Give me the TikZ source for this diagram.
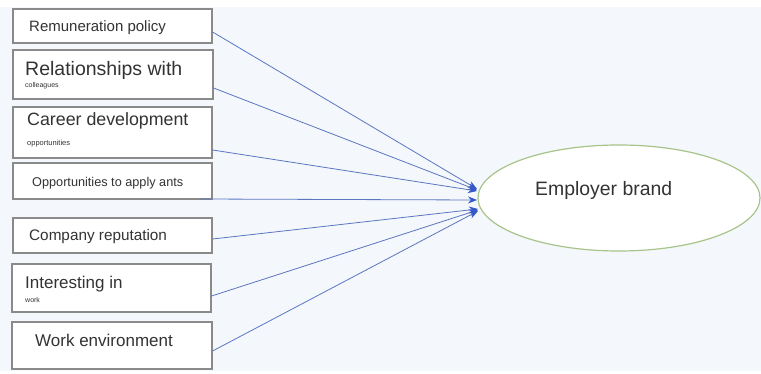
\documentclass[tikz,border=0pt]{standalone}
\usepackage{fontspec}
\setmainfont{Liberation Sans}
\usetikzlibrary{arrows.meta,calc}
\definecolor{bgblue}{HTML}{F4F7FB}
\definecolor{boxline}{HTML}{8A8A8A}
\definecolor{arrowblue}{HTML}{5A76C0}
\definecolor{tipblue}{HTML}{3558C8}
\definecolor{ellgreen}{HTML}{A8C48A}
\definecolor{txt}{HTML}{333333}
\tikzset{
  factorbox/.style={draw=boxline, line width=1.2pt, fill=white, rectangle, inner sep=0pt},
  lbl/.style={anchor=base west, inner sep=0pt, text=txt},
  conn/.style={draw=arrowblue, line width=0.8pt, -{Stealth[length=9pt,width=7pt,color=tipblue]}},
}
\begin{document}
\begin{tikzpicture}[x=1pt,y=-1pt]
\useasboundingbox (0,0) rectangle (761,374);
\fill[white] (0,0) rectangle (761,374);
\fill[bgblue] (0,7) rectangle (761,371);
% boxes
\node[factorbox, minimum width=199pt, minimum height=34pt] (b1) at (112.5,26) {};
\node[factorbox, minimum width=200pt, minimum height=49pt] (b2) at (113,74.5) {};
\node[factorbox, minimum width=199pt, minimum height=51pt] (b3) at (112.5,132.5) {};
\node[factorbox, minimum width=199pt, minimum height=36pt] (b4) at (112.5,181) {};
\node[factorbox, minimum width=199pt, minimum height=35pt] (b5) at (112.5,235.5) {};
\node[factorbox, minimum width=199pt, minimum height=48pt] (b6) at (111.5,288) {};
\node[factorbox, minimum width=200pt, minimum height=47pt] (b7) at (112,345.5) {};
% labels
\node[lbl, font=\fontsize{15}{17}\selectfont] (t1) at (29,32) {Remuneration policy};
\node[lbl, font=\fontsize{19.5}{22}\selectfont] (t2) at (25,76) {Relationships with};
\node[lbl, font=\fontsize{7}{8}\selectfont] (t2s) at (25,88) {colleagues};
\node[lbl, font=\fontsize{17.8}{20}\selectfont] (t3) at (27,126) {Career development};
\node[lbl, font=\fontsize{7.5}{8}\selectfont] (t3s) at (27,146) {opportunities};
\node[lbl, font=\fontsize{12.7}{15}\selectfont] (t4) at (32,187) {Opportunities to apply ants};
\node[lbl, font=\fontsize{15.3}{17}\selectfont] (t5) at (29,241) {Company reputation};
\node[lbl, font=\fontsize{17}{19}\selectfont] (t6) at (25,289) {Interesting in};
\node[lbl, font=\fontsize{7}{8}\selectfont] (t6s) at (25,302) {work};
\node[lbl, font=\fontsize{17}{19}\selectfont] (t7) at (35,346) {Work environment};
% ellipse
\draw[draw=ellgreen, line width=1.2pt, fill=white] (619,198) ellipse [x radius=141, y radius=53];
\node[lbl, font=\fontsize{19.4}{22}\selectfont] (eb) at (535,196) {Employer brand};
% arrow targets
\coordinate (p1) at (477,189);
\coordinate (p2) at (477,190);
\coordinate (p3) at (477,191);
\coordinate (p4) at (477,200);
\coordinate (p5) at (478,209);
\coordinate (p6) at (478,210);
\coordinate (p7) at (478,211);
% connectors
\draw[conn] ([yshift=-6pt]b1.east) -- (p1);
\draw[conn] ([yshift=-13.5pt]b2.east) -- (p2);
\draw[conn] ([yshift=-17.5pt]b3.east) -- (p3);
\draw[conn] ([xshift=-12pt,yshift=-18pt]b4.east) -- (p4);
\draw[conn] ([yshift=-3.5pt]b5.east) -- (p5);
\draw[conn] ([yshift=-8pt]b6.east) -- (p6);
\draw[conn] ([yshift=-5.5pt]b7.east) -- (p7);
\end{tikzpicture}
\end{document}
